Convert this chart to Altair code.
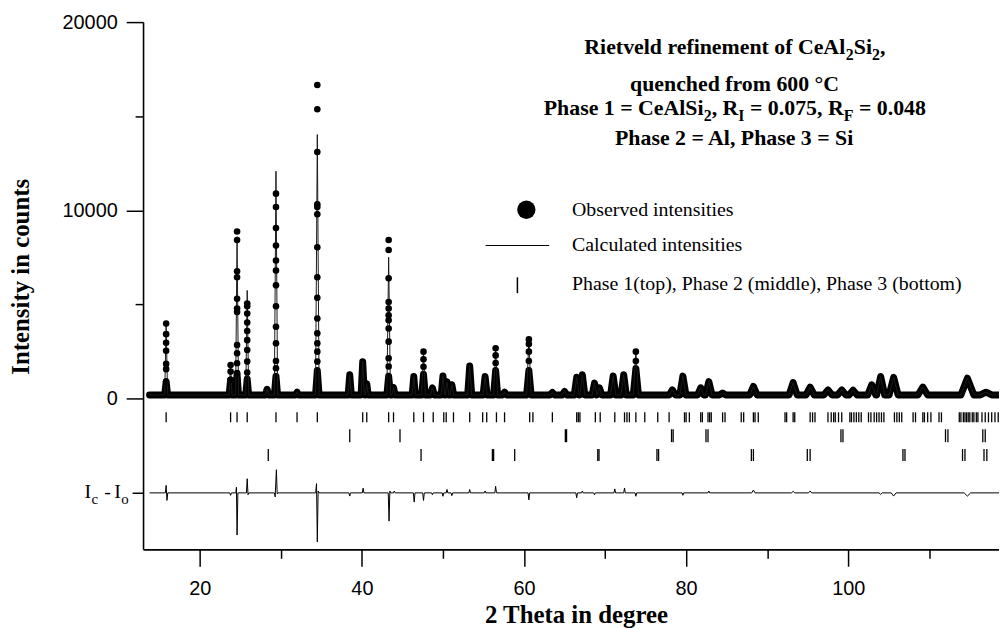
import altair as alt
import pandas as pd

# ---------------- data ----------------
# reflections of the pattern: position (2 theta), calculated peak height, height of the dense
# (overlapping) part of the observed points, and half width at the base
peak_pos = [15.85, 23.8, 24.6, 25.85, 28.3, 29.4, 32.0, 34.5, 38.5, 40.1, 40.6, 43.3, 43.9, 46.4,
            47.6, 48.7, 50.0, 50.5, 51.1, 53.3, 55.2, 56.5, 57.6, 60.6, 63.5, 65.0, 66.5, 67.2,
            68.7, 69.3, 71.0, 72.3, 73.8, 78.3, 79.6, 81.8, 82.8, 84.5, 88.3, 93.2, 95.3, 97.5,
            99.2, 100.6, 102.9, 104.0, 105.6, 109.2, 114.7, 117.0]
calc_height = [3900, 1800, 8600, 5750, 500, 12080, 350, 14030, 1270, 1970, 800, 7510, 600, 1180,
               2550, 580, 1210, 900, 740, 1740, 1180, 2680, 350, 3150, 330, 390, 1140, 1270,
               830, 580, 1210, 1270, 2500, 470, 1200, 580, 910, 300, 650, 860, 620, 470,
               470, 450, 740, 1180, 1140, 620, 1090, 350]
band_height = [900, 1000, 1300, 1050, 500, 1200, 350, 1500, 1270, 1970, 800, 1200, 600, 1180,
               1300, 580, 1210, 900, 740, 1740, 1180, 1500, 350, 1500, 330, 390, 1140, 1270,
               830, 580, 1210, 1270, 1600, 470, 1200, 580, 910, 300, 650, 860, 620, 470,
               470, 450, 740, 1180, 1140, 620, 1090, 350]
peak_halfwidth = [0.18, 0.18, 0.18, 0.18, 0.2, 0.2, 0.2, 0.22, 0.2, 0.2, 0.18, 0.22, 0.2, 0.2,
                  0.22, 0.22, 0.22, 0.22, 0.22, 0.25, 0.25, 0.25, 0.25, 0.28, 0.3, 0.3, 0.3, 0.3,
                  0.3, 0.3, 0.32, 0.32, 0.32, 0.38, 0.38, 0.38, 0.4, 0.4, 0.45, 0.5, 0.5, 0.5,
                  0.5, 0.5, 0.5, 0.5, 0.55, 0.6, 0.8, 0.7]
background_x = [13.8, 118.6]
background_y = [200, 200]

# individual observed points visible on the strong peaks
dot_pos = [15.85, 23.8, 24.6, 25.85, 29.4, 34.5, 43.3, 47.6, 56.5, 60.6, 73.8]
dot_counts = [
    [3990, 3430, 2970, 2550, 1850, 1570, 910],
    [1790, 1440, 1000],
    [8880, 8430, 6770, 6450, 5310, 4790, 4610, 2850, 2410, 1880, 1360],
    [5050, 4910, 4520, 4050, 3600, 3110, 2590, 1970, 1390],
    [10890, 10180, 9060, 8130, 7340, 6810, 6020, 4910, 3820, 2940, 2000, 1620],
    [16660, 15370, 13100, 10330, 10180, 9800, 8040, 6450, 5360, 4260, 3470, 2940, 2500, 1970],
    [8430, 7900, 6400, 5140, 4790, 4430, 4170, 3730, 3030, 2150, 1710],
    [2500, 2100, 1700],
    [2680, 2300, 1900],
    [3150, 2900, 2500, 2000],
    [2500, 2000],
]

# difference curve Ic - Io (counts), drawn shifted below the pattern
diff_points = [(13.8, 0), (15.75, 0), (15.85, 400), (15.95, -400), (16.05, 0),
               (23.7, 0), (23.8, -130), (23.9, 0),
               (24.45, 0), (24.52, 300), (24.6, -2240), (24.7, 0),
               (25.75, 0), (25.85, 750), (25.95, -100), (26.05, 0),
               (29.2, 0), (29.3, -210), (29.45, 1230), (29.55, -50), (29.65, 0),
               (34.3, 0), (34.4, 490), (34.5, -2600), (34.6, 100), (34.7, 0),
               (38.4, 0), (38.5, -170), (38.6, 0),
               (40.05, 0), (40.15, 250), (40.25, 0),
               (43.25, 0), (43.35, -1500), (43.45, 100), (43.55, 0),
               (43.9, 0), (44.0, 100), (44.1, 0),
               (46.35, 0), (46.45, -490), (46.55, 0),
               (47.5, 0), (47.6, -400), (47.7, 0),
               (48.6, 0), (48.7, -100), (48.8, 0),
               (49.9, 0), (50.0, -180), (50.1, 0),
               (50.4, 0), (50.5, 180), (50.6, 0),
               (51.0, 0), (51.1, -150), (51.2, 0),
               (53.2, 0), (53.3, 180), (53.4, 0),
               (55.1, 0), (55.2, 100), (55.3, 0),
               (56.4, 0), (56.5, 350), (56.6, 0),
               (60.5, 0), (60.6, -370), (60.7, 0),
               (66.4, 0), (66.5, -260), (66.6, 0),
               (67.1, 0), (67.2, 100), (67.3, 0),
               (68.6, 0), (68.7, -100), (68.8, 0),
               (71.1, 0), (71.2, 210), (71.3, 0),
               (72.3, 0), (72.4, 260), (72.5, 0),
               (73.7, 0), (73.8, -180), (73.9, 0),
               (79.5, 0), (79.6, -130), (79.7, 0),
               (82.7, 0), (82.8, 100), (82.9, 0),
               (88.1, 0), (88.3, 150), (88.5, 0),
               (93.0, 0), (93.2, 80), (93.4, 0),
               (95.1, 0), (95.3, 100), (95.5, 0),
               (103.8, 0), (104.0, -80), (104.2, 0),
               (105.3, 0), (105.6, -170), (105.9, 0),
               (114.3, 0), (114.7, -170), (115.1, 0),
               (118.6, 0)]
diff_offset = -5000

phase1_ticks = [15.85, 23.8, 24.6, 25.85, 29.4, 32.0, 34.5, 40.1, 40.6, 43.3, 43.9, 46.4, 47.6, 48.8,
                50.1, 50.4, 51.3, 53.3, 54.9, 55.4, 56.6, 57.6, 60.7, 61.1, 63.5, 66.5, 66.7, 66.9,
                68.8, 69.4, 71.2, 72.4, 72.7, 73.0, 73.8, 74.9, 76.5, 77.9, 79.8, 80.0, 80.4, 81.8,
                82.0, 82.7, 82.9, 83.1, 84.5, 84.8, 86.8, 87.1, 88.3, 88.5, 88.9, 92.2, 92.4, 93.2,
                93.4, 95.3, 95.6, 95.9, 97.5, 97.9, 98.2, 98.4, 98.8, 99.2, 100.2, 100.4, 100.7, 101.0,
                101.3, 101.6, 102.5, 102.8, 103.2, 103.5, 103.8, 104.1, 104.4, 105.7, 106.0, 106.3,
                106.6, 108.0, 108.3, 109.2, 109.4, 109.8, 110.2, 111.2, 111.5, 113.7, 113.9, 114.2,
                114.4, 114.6, 114.8, 115.0, 115.3, 115.5, 115.8, 116.0, 116.5, 116.9, 117.3, 117.7,
                118.1, 118.5]
phase2_ticks = [38.5, 44.7, 65.1, 65.25, 78.2, 78.4, 82.45, 82.7, 99.1, 99.35, 112.0, 112.3, 116.6, 116.9]
phase3_ticks = [28.45, 47.3, 56.1, 56.25, 58.85, 69.1, 69.25, 76.4, 76.6, 88.05, 88.3, 94.95, 95.3,
                106.75, 107.0, 114.1, 114.4, 116.75, 117.1]

x_ticks = [20, 30, 40, 50, 60, 70, 80, 90, 100, 110]
y_ticks = [-5000, 0, 5000, 10000, 15000, 20000]

title_lines = [
    [("Rietveld refinement of CeAl", 0), ("2", 1), ("Si", 0), ("2", 1), (",", 0)],
    [("quenched from 600 °C", 0)],
    [("Phase 1 = CeAlSi", 0), ("2", 1), (", R", 0), ("I", 1), (" = 0.075, R", 0), ("F", 1), (" = 0.048", 0)],
    [("Phase 2 = Al, Phase 3 = Si", 0)],
]
legend_labels = ["Observed intensities", "Calculated intensities",
                 "Phase 1(top), Phase 2 (middle), Phase 3 (bottom)"]

# ---------------- layout / style ----------------
OX, OY = 144, 20          # page position of the plot area's top-left corner
W, H = 862, 531
SERIF = "Liberation Serif"
SANS = "Liberation Sans"

# Times-bold advance widths (per 1000 em), to place subscripts next to the text
TB = {' ': 250, ',': 250, '.': 250, '=': 570, '°': 400, 'A': 722, 'C': 722, 'F': 611, 'I': 389,
      'P': 611, 'R': 722, 'S': 556, 'a': 500, 'c': 444, 'd': 556, 'e': 444, 'f': 333, 'h': 556,
      'i': 278, 'l': 278, 'm': 833, 'n': 556, 'o': 500, 'q': 556, 'r': 444, 's': 389, 't': 333,
      'u': 556, 'v': 500}


def tw(s, size):
    return sum(TB.get(c, 500) for c in s) * size / 1000.0


# ---------------- tables ----------------
def profile(heights):
    xs, ys = list(background_x), list(background_y)
    for p, h, w in zip(peak_pos, heights, peak_halfwidth):
        xs += [p - w, p, p + w]
        ys += [background_y[0], h, background_y[0]]
    return pd.DataFrame({"x": xs, "y": ys}).sort_values("x").reset_index(drop=True)


band_df = profile(band_height)
calc_df = profile(calc_height)
dots_df = pd.DataFrame({"x": [p for p, vals in zip(dot_pos, dot_counts) for _ in vals],
                        "y": [v for vals in dot_counts for v in vals]})
diff_df = pd.DataFrame({"x": [p[0] for p in diff_points],
                        "y": [p[1] + diff_offset for p in diff_points],
                        "i": list(range(len(diff_points)))})

x_axis = alt.Axis(values=x_ticks, labelExpr="datum.value % 20 == 0 ? datum.value + '' : ''",
                  grid=False, domainColor="black", domainWidth=1.6, tickColor="black", tickWidth=1.5,
                  tickSize={"condition": {"test": "datum.value % 20 != 0", "value": 9}, "value": 17},
                  labelFont=SANS, labelFontSize=20, labelColor="black", labelPadding=12,
                  labelFlush=False, labelOverlap=False,
                  title="2 Theta in degree", titleFont=SERIF, titleFontSize=25, titleFontWeight="bold",
                  titleColor="black", titleX=580 - OX, titleY=625 - (OY + H), titleAlign="center",
                  titleBaseline="alphabetic")
y_axis = alt.Axis(values=y_ticks,
                  labelExpr="datum.value >= 0 && datum.value % 10000 == 0 ? datum.value + '' : ''",
                  grid=False, domainColor="black", domainWidth=1.6, tickColor="black", tickWidth=1.5,
                  tickSize={"condition": [{"test": "datum.value == 5000 || datum.value == 15000", "value": 8},
                                          {"test": "datum.value == -5000", "value": 11}], "value": 17},
                  labelFont=SANS, labelFontSize=20, labelColor="black", labelPadding=9,
                  labelFlush=False, labelOverlap=False,
                  title="Intensity in counts", titleFont=SERIF, titleFontSize=25, titleFontWeight="bold",
                  titleColor="black", titleAngle=270, titleX=29 - OX, titleY=276 - OY,
                  titleAlign="center", titleBaseline="alphabetic")

xs = alt.Scale(domain=[13, 118.6], nice=False, zero=False)
ys = alt.Scale(domain=[-8000, 20000], nice=False, zero=False)
X = alt.X("x:Q", scale=xs, axis=x_axis)
Y = alt.Y("y:Q", scale=ys, axis=y_axis)

layers = []
layers.append(alt.Chart(band_df).mark_line(color="black", strokeWidth=7, strokeCap="round",
                                           strokeJoin="round").encode(x=X, y=Y))
layers.append(alt.Chart(calc_df).mark_line(color="#1a1a1a", strokeWidth=1).encode(x=X, y=Y))
layers.append(alt.Chart(dots_df).mark_circle(color="black", size=44, opacity=1).encode(x=X, y=Y))
layers.append(alt.Chart(diff_df).mark_line(color="black", strokeWidth=1).encode(
    x=X, y=Y, order=alt.Order("i:Q")))

for ticks, top, bottom in [(phase1_ticks, 413, 423), (phase2_ticks, 430, 443), (phase3_ticks, 450, 462)]:
    layers.append(alt.Chart(pd.DataFrame({"x": ticks})).mark_rule(color="black", strokeWidth=1.3).encode(
        x=X, y=alt.value(top - OY), y2=alt.value(bottom - OY)))

one = pd.DataFrame({"k": [0]})


def text_layer(s, px, py, size, weight="normal", font=SERIF):
    return alt.Chart(one).mark_text(text=s, align="left", baseline="alphabetic", font=font,
                                    fontSize=size, fontWeight=weight, color="black").encode(
        x=alt.value(px - OX), y=alt.value(py - OY))


# title block (centred lines, subscripts smaller and lowered)
TS, SS = 22, 16
for line, base in zip(title_lines, [52, 89, 114, 144]):
    widths = [tw(s, SS if sub else TS) for s, sub in line]
    x0 = 740 - sum(widths) / 2.0
    for (s, sub), w in zip(line, widths):
        size = SS if sub else TS
        lead = len(s) - len(s.lstrip(" "))
        layers.append(text_layer(s.strip(" "), x0 + tw(" " * lead, size), base + (6 if sub else 0),
                                 size, "bold"))
        x0 += w

# legend
layers.append(alt.Chart(one).mark_circle(color="black", size=340, opacity=1).encode(
    x=alt.value(530 - OX), y=alt.value(209 - OY)))
layers.append(alt.Chart(one).mark_rule(color="black", strokeWidth=1.2).encode(
    x=alt.value(489 - OX), x2=alt.value(553 - OX), y=alt.value(245 - OY)))
layers.append(alt.Chart(one).mark_rule(color="black", strokeWidth=1.5).encode(
    x=alt.value(521 - OX), y=alt.value(277 - OY), y2=alt.value(293 - OY)))
for lab, base in zip(legend_labels, [215, 251, 290]):
    layers.append(text_layer(lab, 576, base, 20))

# label of the difference curve: I_c - I_o
for s, px, py, size in [("I", 85, 499, 20), ("c", 92, 505, 15), ("-", 105, 499, 20),
                        ("I", 115, 499, 20), ("o", 122, 505, 15)]:
    layers.append(text_layer(s, px, py, size))

chart = alt.layer(*layers).properties(
    width=W, height=H,
    autosize=alt.AutoSizeParams(type="none"),
    padding={"left": OX - 8, "top": OY - 8, "right": 0, "bottom": 78},
    background="white",
).configure_view(stroke=None)

chart.save("out.html", embed_options={"renderer": "svg", "actions": False})
